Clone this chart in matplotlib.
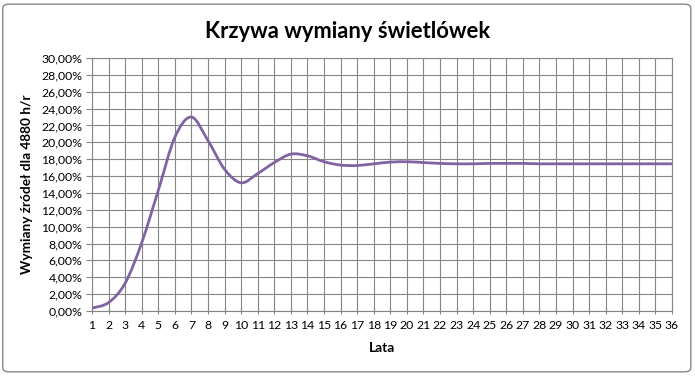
import matplotlib
matplotlib.use("Agg")
import matplotlib.pyplot as plt
from matplotlib.path import Path
from matplotlib.patches import PathPatch, FancyBboxPatch
from matplotlib.ticker import FuncFormatter
import numpy as np

plt.rcParams['font.family'] = ['Lato', 'DejaVu Sans']

# dane
lata = list(range(1, 37))
wymiany = [0.35, 1.0, 3.3, 8.1, 14.3, 20.6, 23.0, 20.2, 16.8, 15.2,
           16.3, 17.6, 18.6, 18.4, 17.7, 17.3, 17.25, 17.45, 17.65, 17.7,
           17.6, 17.5, 17.45, 17.45, 17.5, 17.5, 17.5, 17.45, 17.45, 17.45,
           17.45, 17.45, 17.45, 17.45, 17.45, 17.45]

tytul = "Krzywa wymiany świetlówek"
opis_y = "Wymiany źródeł dla 4880 h/r"
opis_x = "Lata"

szary = '#868686'
fiolet = '#8064A2'

fig = plt.figure(figsize=(6.95, 3.76), dpi=100)
ax = fig.add_axes([0.1324, 0.1729, 0.8345, 0.6729])

# wygladzona linia jak w Excelu (Catmull-Rom -> Bezier)
x = np.array(lata, dtype=float)
y = np.array(wymiany, dtype=float)
px = np.concatenate([[x[0]], x, [x[-1]]])
py = np.concatenate([[y[0]], y, [y[-1]]])
verts = [(x[0], y[0])]
codes = [Path.MOVETO]
for i in range(1, len(px) - 2):
    c1 = (px[i] + (px[i + 1] - px[i - 1]) / 6, py[i] + (py[i + 1] - py[i - 1]) / 6)
    c2 = (px[i + 1] - (px[i + 2] - px[i]) / 6, py[i + 1] - (py[i + 2] - py[i]) / 6)
    verts += [c1, c2, (px[i + 1], py[i + 1])]
    codes += [Path.CURVE4] * 3
ax.add_patch(PathPatch(Path(verts, codes), facecolor='none', edgecolor=fiolet,
                       linewidth=2.0, capstyle='round', zorder=3))

ax.set_xlim(1, 36)
ax.set_ylim(0, 30)
ax.set_xticks(lata)
ax.set_yticks(np.arange(0, 31, 2))
ax.yaxis.set_major_formatter(FuncFormatter(lambda v, p: f"{v:.2f}%".replace('.', ',')))
ax.grid(True, color=szary, linewidth=0.8)
ax.set_axisbelow(True)
for s in ax.spines.values():
    s.set_color(szary)
    s.set_linewidth(0.8)
ax.tick_params(axis='x', direction='inout', length=5, color=szary, labelsize=8.8, pad=4)
ax.tick_params(axis='y', direction='out', length=4, color=szary, labelsize=8.8, pad=3)

ax.set_xlabel(opis_x, fontsize=9.8, fontweight='bold', labelpad=8)
ax.set_ylabel(opis_y, fontsize=9.8, fontweight='bold', labelpad=6)
fig.text(0.5, 0.915, tytul, ha='center', va='center', fontsize=15.8, fontweight='bold')

fig.patches.append(FancyBboxPatch((0.004, 0.011), 0.99, 0.978,
                                  boxstyle='round,pad=0,rounding_size=0.01',
                                  transform=fig.transFigure, facecolor='none',
                                  edgecolor=szary, linewidth=1.0))

fig.savefig('out.png', dpi=100)
